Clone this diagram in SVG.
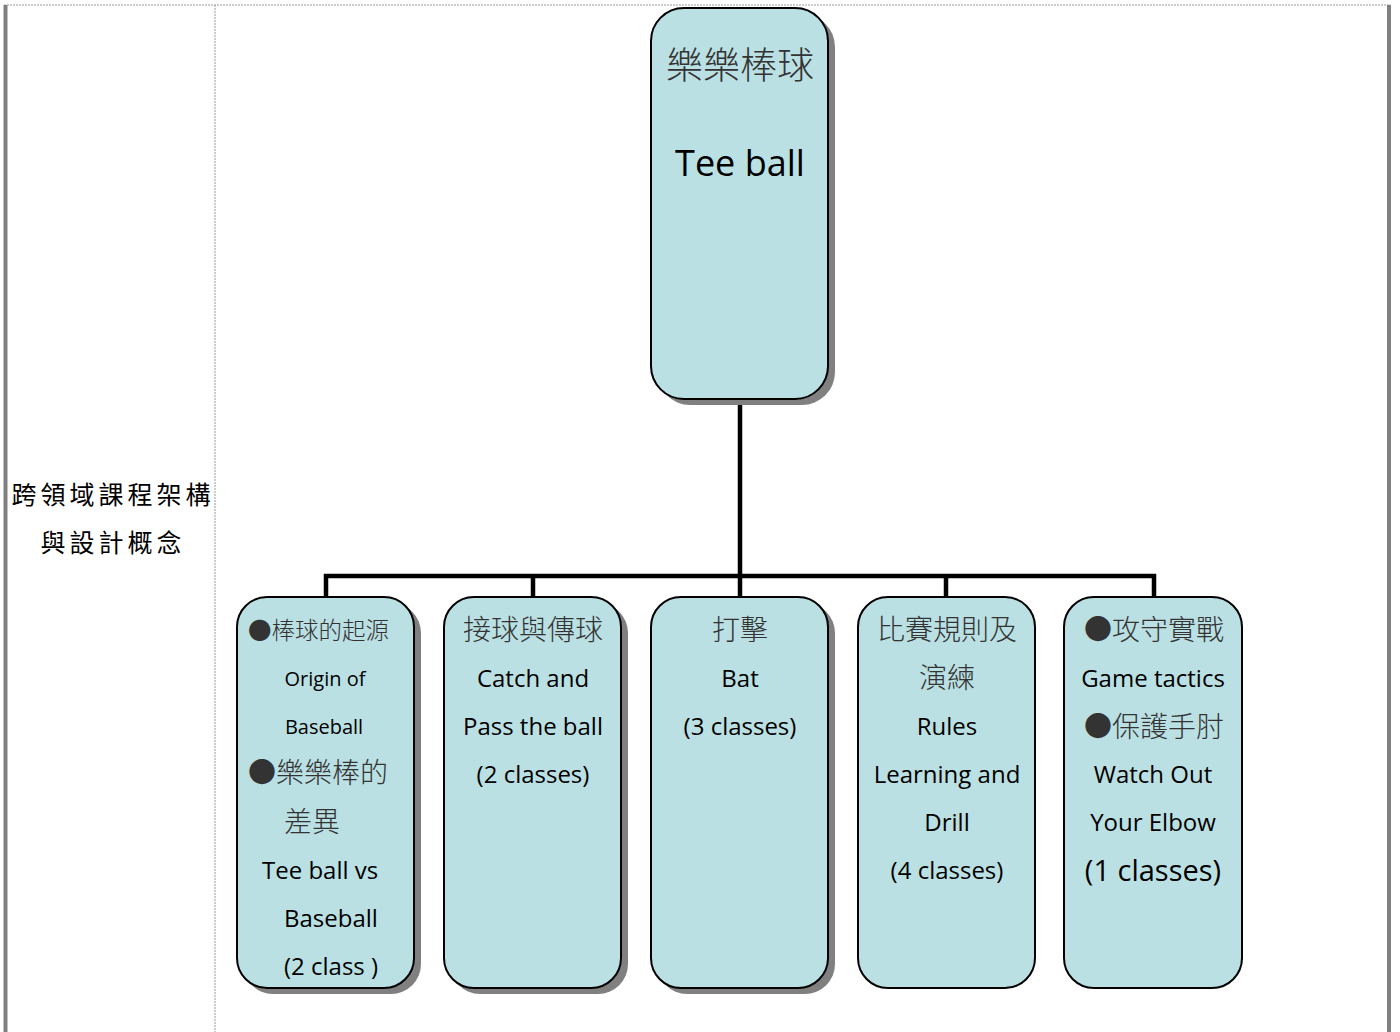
<svg xmlns="http://www.w3.org/2000/svg" width="1400" height="1032" viewBox="0 0 1400 1032">
<defs>
<style>
.box{fill:#bae0e3;stroke:#000;stroke-width:2}
.sh{fill:#808080}
.en{font-family:"Open Sans","Liberation Sans",sans-serif;fill:#000;text-anchor:middle}
.cj{font-family:"Noto Sans CJK TC","Noto Sans CJK SC",sans-serif;fill:#333;font-weight:300;text-anchor:middle}
.st{text-anchor:start}
.con{stroke:#000;stroke-width:4.5;fill:none}
.lbl{font-family:"Noto Sans CJK TC","Noto Sans CJK SC",serif;fill:#000;font-size:25px;letter-spacing:4px;text-anchor:middle}
</style>
</defs>
<rect width="1400" height="1032" fill="#fff"/>
<g id="frame">
<line x1="4" y1="5" x2="1391" y2="5" stroke="#999" stroke-width="1" stroke-dasharray="2,1"/>
<line x1="215" y1="5" x2="215" y2="1032" stroke="#999" stroke-width="1" stroke-dasharray="2,1"/>
<rect x="3.5" y="5" width="4" height="1027" fill="#808080"/>
<rect x="1387" y="5" width="4" height="1027" fill="#808080"/>
</g>
<g id="label">
<text class="lbl" x="113" y="504">跨領域課程架構</text>
<text class="lbl" x="113" y="552">與設計概念</text>
</g>
<g id="connectors">
<line class="con" x1="740" y1="399" x2="740" y2="576"/>
<polyline class="con" points="326,598 326,576 1154,576 1154,598"/>
<line class="con" x1="533" y1="576" x2="533" y2="598"/>
<line class="con" x1="740" y1="576" x2="740" y2="598"/>
<line class="con" x1="946" y1="576" x2="946" y2="598"/>
</g>
<g id="root">
<rect class="sh" x="657" y="14" width="178" height="391" rx="33"/>
<rect class="box" x="651" y="8" width="177" height="391" rx="33"/>
<text class="cj" x="740" y="79" font-size="37">樂樂棒球</text>
<text class="en" x="740" y="176" font-size="36">Tee ball</text>
</g>
<g id="n1">
<rect class="sh" x="243" y="603" width="178" height="391" rx="30"/>
<rect class="box" x="237" y="597" width="177" height="391" rx="30"/>
<text class="cj st" x="248" y="639" font-size="23.5">●棒球的起源</text>
<text class="en" x="325" y="686" font-size="20">Origin of</text>
<text class="en" x="324" y="734" font-size="20">Baseball</text>
<text class="cj st" x="248" y="783" font-size="28">●樂樂棒的</text>
<text class="cj st" x="284" y="832" font-size="28">差異</text>
<text class="en st" x="262" y="879" font-size="24">Tee ball vs</text>
<text class="en st" x="284" y="927" font-size="24">Baseball</text>
<text class="en st" x="284" y="975" font-size="24">(2 class )</text>
</g>
<g id="n2">
<rect class="sh" x="450" y="603" width="178" height="391" rx="30"/>
<rect class="box" x="444" y="597" width="177" height="391" rx="30"/>
<text class="cj" x="533" y="640" font-size="28">接球與傳球</text>
<text class="en" x="533" y="687" font-size="24">Catch and</text>
<text class="en" x="533" y="735" font-size="24">Pass the ball</text>
<text class="en" x="533" y="783" font-size="24">(2 classes)</text>
</g>
<g id="n3">
<rect class="sh" x="657" y="603" width="178" height="391" rx="30"/>
<rect class="box" x="651" y="597" width="177" height="391" rx="30"/>
<text class="cj" x="740" y="640" font-size="28">打擊</text>
<text class="en" x="740" y="687" font-size="24">Bat</text>
<text class="en" x="740" y="735" font-size="24">(3 classes)</text>
</g>
<g id="n4">
<rect class="box" x="858" y="597" width="177" height="391" rx="30"/>
<text class="cj" x="947" y="640" font-size="28">比賽規則及</text>
<text class="cj" x="947" y="688" font-size="28">演練</text>
<text class="en" x="947" y="735" font-size="24">Rules</text>
<text class="en" x="947" y="783" font-size="24">Learning and</text>
<text class="en" x="947" y="831" font-size="24">Drill</text>
<text class="en" x="947" y="879" font-size="24">(4 classes)</text>
</g>
<g id="n5">
<rect class="box" x="1064" y="597" width="178" height="391" rx="30"/>
<text class="cj" x="1154" y="640" font-size="28">●攻守實戰</text>
<text class="en" x="1153" y="687" font-size="24">Game tactics</text>
<text class="cj" x="1154" y="737" font-size="28">●保護手肘</text>
<text class="en" x="1153" y="783" font-size="24">Watch Out</text>
<text class="en" x="1153" y="831" font-size="24">Your Elbow</text>
<text class="en" x="1153" y="881" font-size="29">(1 classes)</text>
</g>
</svg>
